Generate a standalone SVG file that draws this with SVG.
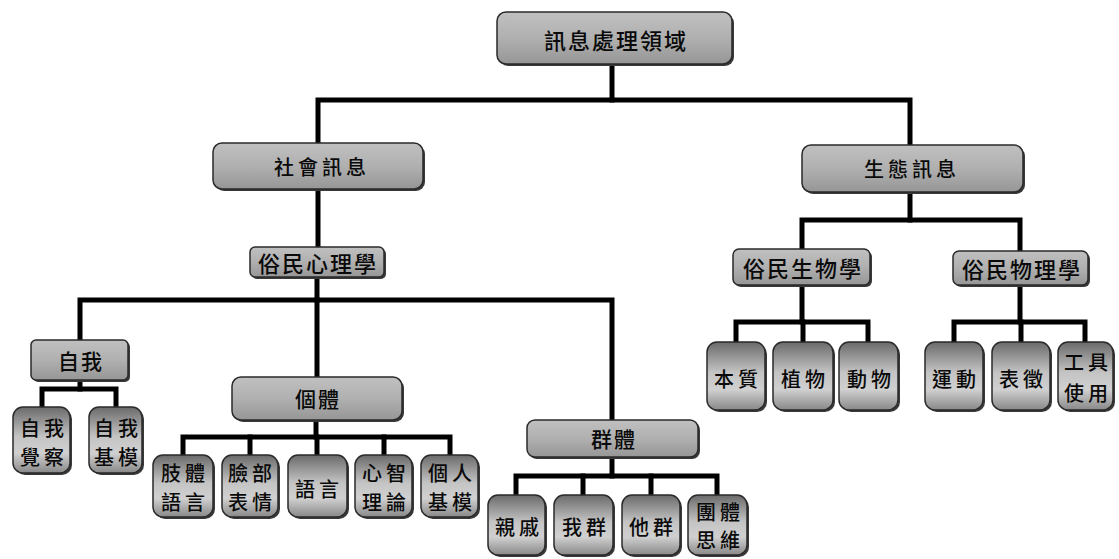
<svg xmlns="http://www.w3.org/2000/svg" width="1119" height="559" viewBox="0 0 1119 559">
<defs>
<linearGradient id="gWide" x1="0" y1="0" x2="0" y2="1">
<stop offset="0" stop-color="#c0c0c0"/>
<stop offset="0.5" stop-color="#b0b0b0"/>
<stop offset="1" stop-color="#969696"/>
</linearGradient>
<linearGradient id="gLeaf" x1="0" y1="0" x2="0" y2="1">
<stop offset="0" stop-color="#6a6a6a"/>
<stop offset="0.45" stop-color="#c4c4c4"/>
<stop offset="0.7" stop-color="#d0d0d0"/>
<stop offset="1" stop-color="#888888"/>
</linearGradient>
</defs>
<style>
.bg{fill:#ffffff}
.sh{fill:#3a3a3a}
.wide{fill:url(#gWide);stroke:#2a2a2a;stroke-width:1.5}
.leaf{fill:url(#gLeaf);stroke:#2a2a2a;stroke-width:1.5}
.t{font-family:"Noto Sans CJK TC","Noto Sans CJK SC",sans-serif;fill:#0a0a0a;text-anchor:middle;dominant-baseline:central;font-weight:500}
.t1{font-size:22px;letter-spacing:2px}
.t2{font-size:20px;letter-spacing:4px}
.t3{font-size:21px;letter-spacing:2px}
.t4{font-size:20px;letter-spacing:4px}
.c{fill:none;stroke:#000;stroke-width:5;stroke-linejoin:miter;stroke-linecap:square}
</style>
<rect class="bg" x="0" y="0" width="1119" height="559"/>

<g id="connectors">
<path class="c" d="M612,65 V100"/>
<path class="c" d="M318,143 V100 H910 V145"/>
<path class="c" d="M318,189 V247"/>
<path class="c" d="M317,277 V300"/>
<path class="c" d="M80,340 V300 H612 V420"/>
<path class="c" d="M317,300 V377"/>
<path class="c" d="M80,380 V389"/>
<path class="c" d="M42,407 V389 H116 V407"/>
<path class="c" d="M316,420 V437"/>
<path class="c" d="M183,455 V437 H450 V455"/>
<path class="c" d="M250,437 V455 M317,437 V455 M384,437 V455"/>
<path class="c" d="M612,457 V476"/>
<path class="c" d="M516,495 V476 H717 V495"/>
<path class="c" d="M583,476 V495 M651,476 V495"/>
<path class="c" d="M910,192 V220"/>
<path class="c" d="M802,249 V220 H1020 V251"/>
<path class="c" d="M802,285 V322"/>
<path class="c" d="M736,342 V322 H868 V342"/>
<path class="c" d="M803,322 V342"/>
<path class="c" d="M1020,285 V322"/>
<path class="c" d="M954,342 V322 H1085 V342"/>
<path class="c" d="M1021,322 V342"/>
</g>

<g id="n-root"><rect class="sh" x="499" y="14" width="235" height="52" rx="9"/><rect class="wide" x="497" y="12" width="235" height="52" rx="9"/><text class="t t1" x="616" y="39">訊息處理領域</text></g>

<g id="n-social"><rect class="sh" x="215" y="145" width="210" height="46" rx="9"/><rect class="wide" x="213" y="143" width="210" height="46" rx="9"/><text class="t t2" x="322" y="166">社會訊息</text></g>
<g id="n-eco"><rect class="sh" x="804" y="147" width="221" height="47" rx="9"/><rect class="wide" x="802" y="145" width="221" height="47" rx="9"/><text class="t t2" x="912" y="168">生態訊息</text></g>

<g id="n-folkpsy"><rect class="sh" x="252" y="249" width="134" height="30" rx="5"/><rect class="wide" x="250" y="247" width="134" height="30" rx="5"/><text class="t t1" x="318" y="262">俗民心理學</text></g>
<g id="n-folkbio"><rect class="sh" x="735" y="251" width="137" height="36" rx="6"/><rect class="wide" x="733" y="249" width="137" height="36" rx="6"/><text class="t t1" x="803" y="267">俗民生物學</text></g>
<g id="n-folkphy"><rect class="sh" x="955" y="253" width="135" height="34" rx="6"/><rect class="wide" x="953" y="251" width="135" height="34" rx="6"/><text class="t t1" x="1022" y="268">俗民物理學</text></g>

<g id="n-self"><rect class="sh" x="33" y="342" width="97" height="40" rx="5"/><rect class="wide" x="31" y="340" width="97" height="40" rx="5"/><text class="t t3" x="81" y="360">自我</text></g>
<g id="n-indiv"><rect class="sh" x="234" y="379" width="170" height="43" rx="9"/><rect class="wide" x="232" y="377" width="170" height="43" rx="9"/><text class="t t3" x="318" y="398">個體</text></g>
<g id="n-group"><rect class="sh" x="529" y="422" width="171" height="37" rx="8"/><rect class="wide" x="527" y="420" width="171" height="37" rx="8"/><text class="t t3" x="614" y="438">群體</text></g>

<g id="n-selfaware"><rect class="sh" x="15" y="409" width="57" height="66" rx="10"/><rect class="leaf" x="13" y="407" width="57" height="66" rx="10"/><text class="t t4" x="44" y="427">自我</text><text class="t t4" x="44" y="456">覺察</text></g>
<g id="n-selfschema"><rect class="sh" x="91" y="409" width="53" height="66" rx="10"/><rect class="leaf" x="89" y="407" width="53" height="66" rx="10"/><text class="t t4" x="118" y="427">自我</text><text class="t t4" x="118" y="456">基模</text></g>

<g id="n-body"><rect class="sh" x="155" y="457" width="60" height="62" rx="10"/><rect class="leaf" x="153" y="455" width="60" height="62" rx="10"/><text class="t t4" x="185" y="472">肢體</text><text class="t t4" x="185" y="501">語言</text></g>
<g id="n-face"><rect class="sh" x="224" y="457" width="56" height="62" rx="10"/><rect class="leaf" x="222" y="455" width="56" height="62" rx="10"/><text class="t t4" x="252" y="472">臉部</text><text class="t t4" x="252" y="501">表情</text></g>
<g id="n-lang"><rect class="sh" x="290" y="457" width="59" height="62" rx="10"/><rect class="leaf" x="288" y="455" width="59" height="62" rx="10"/><text class="t t4" x="319" y="488">語言</text></g>
<g id="n-tom"><rect class="sh" x="357" y="457" width="57" height="62" rx="10"/><rect class="leaf" x="355" y="455" width="57" height="62" rx="10"/><text class="t t4" x="386" y="472">心智</text><text class="t t4" x="386" y="501">理論</text></g>
<g id="n-indschema"><rect class="sh" x="423" y="457" width="57" height="62" rx="10"/><rect class="leaf" x="421" y="455" width="57" height="62" rx="10"/><text class="t t4" x="452" y="472">個人</text><text class="t t4" x="452" y="501">基模</text></g>

<g id="n-kin"><rect class="sh" x="490" y="497" width="57" height="60" rx="10"/><rect class="leaf" x="488" y="495" width="57" height="60" rx="10"/><text class="t t4" x="519" y="526">親戚</text></g>
<g id="n-ingroup"><rect class="sh" x="556" y="497" width="59" height="60" rx="10"/><rect class="leaf" x="554" y="495" width="59" height="60" rx="10"/><text class="t t4" x="586" y="526">我群</text></g>
<g id="n-outgroup"><rect class="sh" x="624" y="497" width="58" height="60" rx="10"/><rect class="leaf" x="622" y="495" width="58" height="60" rx="10"/><text class="t t4" x="653" y="526">他群</text></g>
<g id="n-groupthink"><rect class="sh" x="690" y="497" width="59" height="60" rx="10"/><rect class="leaf" x="688" y="495" width="59" height="60" rx="10"/><text class="t t4" x="720" y="511">團體</text><text class="t t4" x="720" y="539">思維</text></g>

<g id="n-essence"><rect class="sh" x="709" y="344" width="58" height="68" rx="10"/><rect class="leaf" x="707" y="342" width="58" height="68" rx="10"/><text class="t t4" x="738" y="378">本質</text></g>
<g id="n-plant"><rect class="sh" x="775" y="344" width="60" height="68" rx="10"/><rect class="leaf" x="773" y="342" width="60" height="68" rx="10"/><text class="t t4" x="805" y="378">植物</text></g>
<g id="n-animal"><rect class="sh" x="841" y="344" width="59" height="68" rx="10"/><rect class="leaf" x="839" y="342" width="59" height="68" rx="10"/><text class="t t4" x="871" y="378">動物</text></g>

<g id="n-motion"><rect class="sh" x="927" y="344" width="58" height="68" rx="10"/><rect class="leaf" x="925" y="342" width="58" height="68" rx="10"/><text class="t t4" x="956" y="378">運動</text></g>
<g id="n-repr"><rect class="sh" x="994" y="344" width="58" height="68" rx="10"/><rect class="leaf" x="992" y="342" width="58" height="68" rx="10"/><text class="t t4" x="1023" y="378">表徵</text></g>
<g id="n-tool"><rect class="sh" x="1060" y="344" width="55" height="68" rx="10"/><rect class="leaf" x="1058" y="342" width="55" height="68" rx="10"/><text class="t t4" x="1088" y="361">工具</text><text class="t t4" x="1088" y="392">使用</text></g>
</svg>
